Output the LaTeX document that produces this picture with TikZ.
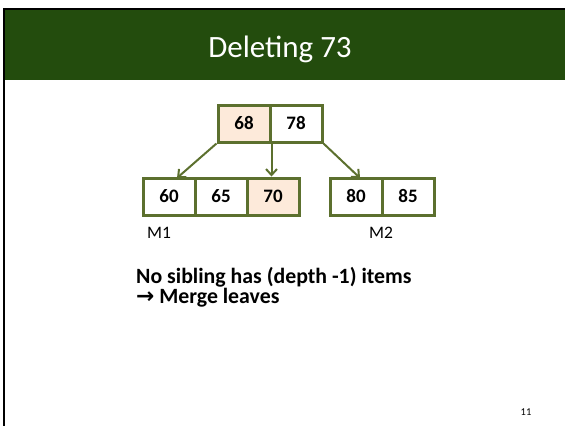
\documentclass[tikz,border=0pt]{standalone}
\usepackage{fontspec}
\setmainfont{Carlito}
\newfontfamily\symfont{DejaVu Sans}
\usepackage{tikz}
\usetikzlibrary{arrows.meta}
\usetikzlibrary{positioning}

\definecolor{band}{RGB}{35,76,13}
\definecolor{olive}{RGB}{92,112,46}
\definecolor{peach}{RGB}{253,234,218}

\tikzset{
  cell/.style={draw=olive, line width=3pt, minimum width=52pt, minimum height=37pt,
               inner sep=0pt, font=\fontsize{19}{22}\selectfont\bfseries},
  hit/.style={cell, fill=peach},
  link/.style={olive, line width=2pt, -{Straight Barb[length=6pt,width=11pt]}},
  tag/.style={font=\fontsize{17.5}{20}\selectfont, anchor=base west, inner sep=0pt},
  note/.style={font=\fontsize{21.8}{22}\selectfont\bfseries, anchor=base west, inner sep=0pt}
}

\begin{document}
\begin{tikzpicture}[x=1pt,y=-1pt]
  \useasboundingbox (0,0) rectangle (565,426);

  %slide frame and title band
  \fill[band] (5,10) rectangle (565,80);
  \fill[black] (3,8) rectangle (565,10);
  \fill[black] (3,8) rectangle (5,426);
  \node[white, font=\fontsize{31}{36}\selectfont, anchor=base] (title) at (280,57) {Deleting 73};

  \def\d{52};

  %root
  \def\y{123.5};
  \foreach \i/\num/\name/\sty in {0/68/k68/hit, 1/78/k78/cell}{
      \node[\sty] (\name) at (244 + \i*\d, \y) {\num};
  }

  %leaves
  \def\y{196.5};
  \foreach \i/\num/\name/\sty in {0/60/c60/cell, 1/65/c65/cell, 2/70/c70/hit}{
      \node[\sty] (\name) at (169 + \i*\d, \y) {\num};
  }
  \foreach \i/\num/\name/\sty in {0/80/c80/cell, 1/85/c85/cell}{
      \node[\sty] (\name) at (356 + \i*\d, \y) {\num};
  }

  %pointers
  \coordinate (p1) at (177,178);
  \coordinate (p3) at (360,178);
  \draw[link] (k68.south west) -- (p1);
  \draw[link] (k68.south east) -- (k68.south east |- c70.north);
  \draw[link] (k78.south east) -- (p3);

  \node[tag] (m1) at (147,238) {M1};
  \node[tag] (m2) at (369,238) {M2};

  \node[note] (line1) at (136,283) {No sibling has (depth -1) items};
  \node[note] (line2) at (136,303) {{\symfont\bfseries →} Merge leaves};

  \node[font=\fontsize{10.5}{12}\selectfont, anchor=base] (page) at (526,415.5) {11};
\end{tikzpicture}
\end{document}
